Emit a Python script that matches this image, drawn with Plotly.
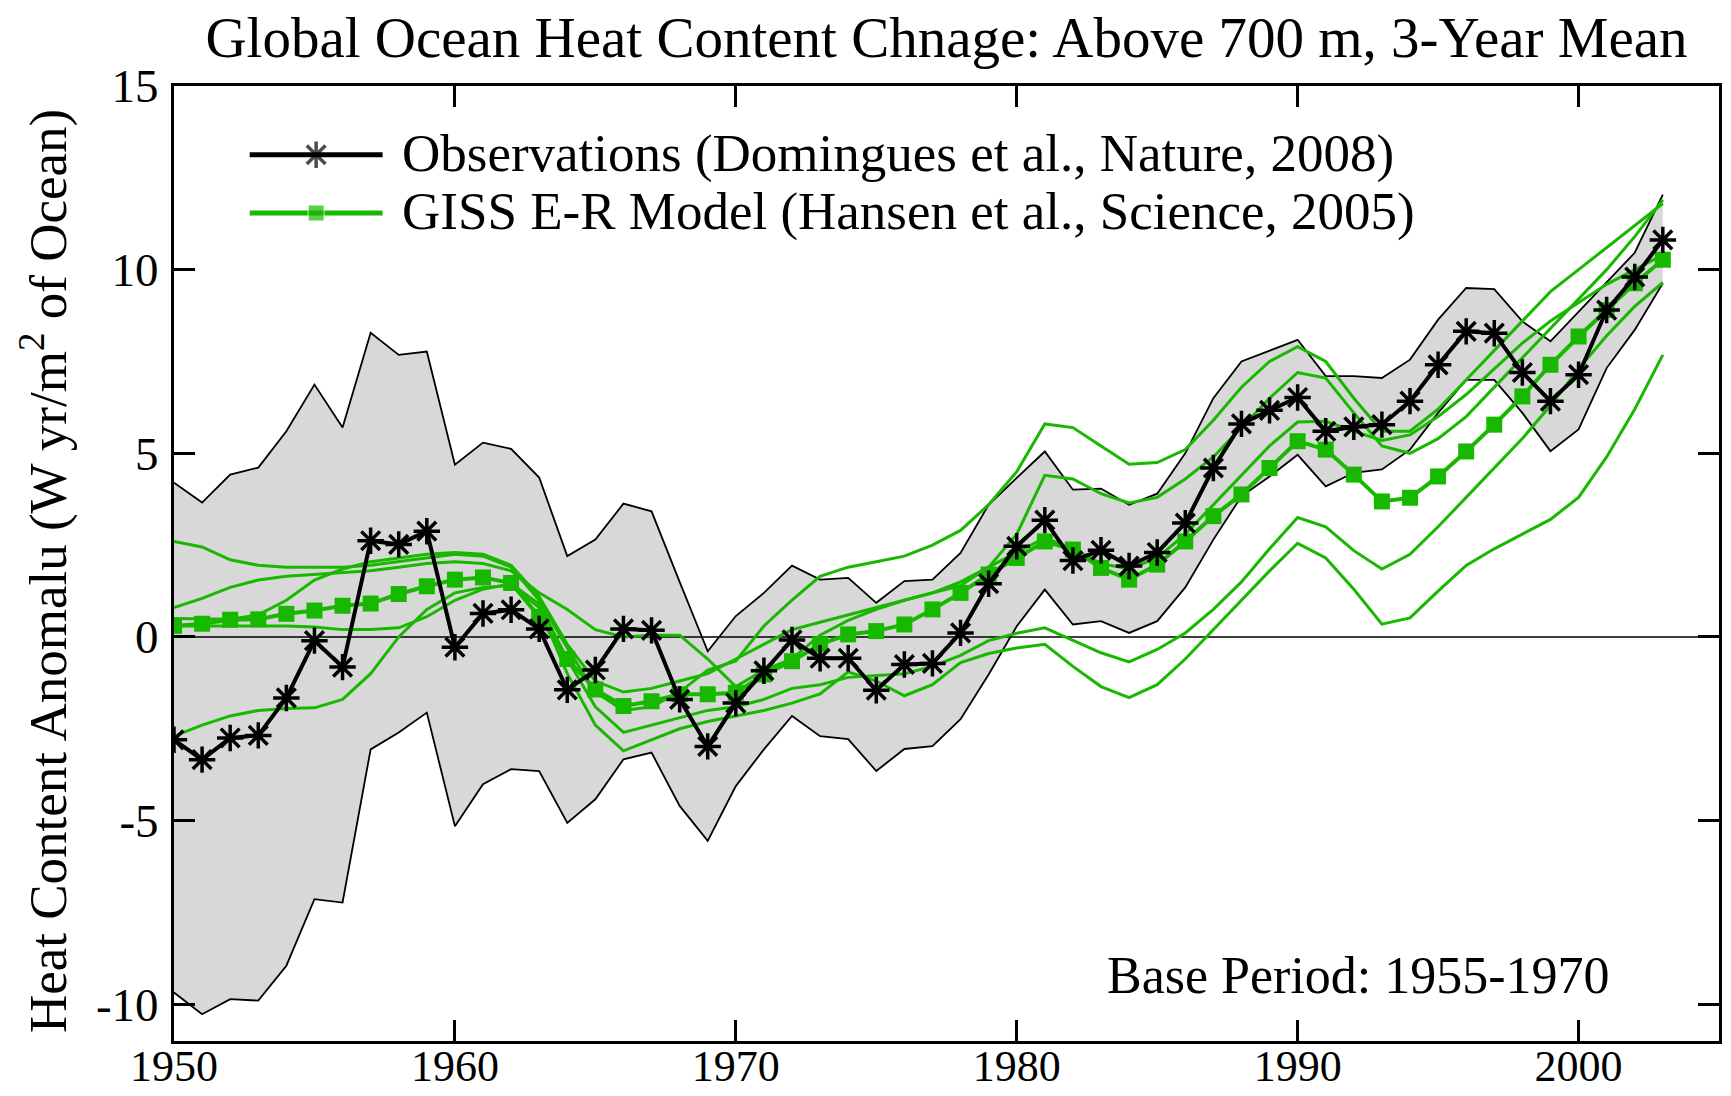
import plotly.graph_objects as go

# annual values, 3-year means
years = list(range(1950, 2004))

obs = [-2.8, -3.34, -2.75, -2.68, -1.66, -0.1, -0.82, 2.62, 2.52, 2.88,
       -0.28, 0.64, 0.74, 0.22, -1.44, -0.9, 0.22, 0.18, -1.7, -2.98,
       -1.8, -0.92, -0.08, -0.58, -0.58, -1.45, -0.75, -0.72, 0.11, 1.45,
       2.47, 3.18, 2.08, 2.36, 1.93, 2.3, 3.1, 4.6, 5.8, 6.17,
       6.52, 5.6, 5.72, 5.78, 6.42, 7.41, 8.32, 8.27, 7.2, 6.42,
       7.14, 8.9, 9.8, 10.81]

obs_upper = [4.2, 3.66, 4.42, 4.61, 5.6, 6.87, 5.7, 8.28, 7.68, 7.77,
             4.69, 5.29, 5.12, 4.34, 2.2, 2.65, 3.63, 3.42, 1.5, -0.39,
             0.57, 1.2, 1.94, 1.56, 1.61, 0.93, 1.52, 1.56, 2.29, 3.6,
             4.33, 5.05, 4.01, 4.04, 3.6, 3.9, 5.0, 6.5, 7.5, 7.8,
             8.09, 7.1, 7.1, 7.05, 7.55, 8.64, 9.5, 9.47, 8.59, 8.05,
             8.86, 9.68, 10.46, 12.04]

obs_lower = [-9.68, -10.27, -9.86, -9.9, -8.95, -7.14, -7.23, -3.06, -2.6, -2.06,
             -5.15, -4.01, -3.6, -3.65, -5.06, -4.42, -3.33, -3.15, -4.6, -5.55,
             -4.06, -3.06, -2.15, -2.7, -2.78, -3.65, -3.05, -2.97, -2.24, -1.02,
             0.29, 1.29, 0.34, 0.43, 0.11, 0.43, 1.35, 2.65, 3.83, 4.37,
             4.96, 4.1, 4.47, 4.56, 5.1, 6.1, 7.0, 7.0, 6.1, 5.06,
             5.65, 7.32, 8.36, 9.63]

model_mean = [0.3, 0.36, 0.47, 0.48, 0.63, 0.72, 0.85, 0.91, 1.17, 1.38,
              1.56, 1.62, 1.47, 0.55, -0.6, -1.43, -1.88, -1.75, -1.56, -1.56,
              -1.52, -1.02, -0.66, -0.2, 0.07, 0.16, 0.34, 0.75, 1.2, 1.7,
              2.15, 2.6, 2.38, 1.88, 1.56, 1.97, 2.6, 3.29, 3.88, 4.6,
              5.33, 5.1, 4.42, 3.69, 3.79, 4.37, 5.05, 5.78, 6.55, 7.41,
              8.18, 8.9, 9.63, 10.27]

run1 = [2.6, 2.45, 2.1, 1.95, 1.9, 1.9, 1.9, 1.95, 2.05, 2.15,
        2.25, 2.2, 1.9, 1.0, -0.3, -1.5, -2.0, -1.9, -1.5, -0.9,
        -0.65, 0.3, 1.0, 1.65, 1.9, 2.05, 2.2, 2.5, 2.9, 3.6,
        4.5, 5.8, 5.7, 5.2, 4.7, 4.75, 5.1, 5.9, 6.8, 7.5,
        7.9, 7.5, 6.5, 5.6, 5.6, 6.2, 7.0, 7.8, 8.6, 9.4,
        10.0, 10.6, 11.2, 11.8]
run2 = [0.8, 1.05, 1.35, 1.55, 1.65, 1.7, 1.75, 1.8, 1.9, 2.0,
        2.05, 2.0, 1.8, 1.2, 0.75, 0.2, 0.0, 0.05, 0.05, -0.6,
        -1.35, -0.9, -0.6, 0.05, 0.45, 0.75, 1.0, 1.2, 1.5, 1.9,
        2.8, 4.4, 4.3, 3.9, 3.65, 3.8, 4.3, 4.9, 5.7, 6.5,
        7.2, 7.05, 6.1, 5.2, 5.0, 5.4, 6.0, 6.8, 7.6, 8.4,
        9.2, 10.0, 10.9, 11.9]
run3 = [0.5, 0.48, 0.48, 0.6, 1.0, 1.55, 1.85, 2.05, 2.15, 2.25,
        2.3, 2.25, 1.95, 1.1, -0.2, -1.2, -1.5, -1.4, -1.2, -1.0,
        -0.6, -0.2, 0.2, 0.4, 0.6, 0.8, 1.0, 1.2, 1.4, 1.9,
        2.3, 2.7, 2.4, 2.0, 1.85, 2.15, 2.8, 3.6, 4.4, 5.2,
        5.85, 5.87, 5.6, 5.35, 5.5, 6.0, 6.6, 7.3, 8.0, 8.6,
        9.1, 9.6, 10.0, 10.4]
run4 = [0.3, 0.3, 0.3, 0.3, 0.3, 0.27, 0.2, 0.2, 0.25, 0.55,
        1.0, 1.3, 1.45, 0.9, -0.6, -1.9, -2.6, -2.4, -2.2, -2.0,
        -1.9, -1.7, -1.4, -1.3, -1.1, -1.05, -1.0, -0.8, -0.5, -0.1,
        0.1, 0.25, -0.1, -0.43, -0.68, -0.34, 0.11, 0.75, 1.5, 2.4,
        3.25, 3.0, 2.35, 1.85, 2.25, 3.0, 3.8, 4.6, 5.4, 6.3,
        7.3, 8.2, 9.0, 9.65]
run5 = [-2.7, -2.4, -2.15, -2.0, -1.95, -1.93, -1.7, -1.0, 0.0, 0.75,
        1.2, 1.35, 1.4, 0.8, -1.0, -2.4, -3.1, -2.8, -2.5, -2.3,
        -2.15, -2.0, -1.8, -1.55, -0.95, -1.2, -1.6, -1.3, -0.7, -0.45,
        -0.3, -0.2, -0.8, -1.35, -1.65, -1.3, -0.6, 0.2, 1.0, 1.8,
        2.55, 2.15, 1.3, 0.35, 0.52, 1.25, 1.95, 2.4, 2.8, 3.2,
        3.8, 4.9, 6.2, 7.68]
runs = [run1, run2, run3, run4, run5]

x_ticks = [1950, 1960, 1970, 1980, 1990, 2000]
y_ticks = [-10, -5, 0, 5, 10, 15]
y_ticktext = ['-10', '-5', '0', '5', '10', '15']
x_range = [1950, 2005]
y_range = [-11, 15]

GREEN = '#19b800'
FONT = 'Liberation Serif'

fig = go.Figure()

# grey band of the observational uncertainty
fig.add_trace(go.Scatter(x=years, y=obs_lower, mode='lines',
                         line=dict(color='black', width=1.8), showlegend=False))
fig.add_trace(go.Scatter(x=years, y=obs_upper, mode='lines', fill='tonexty',
                         fillcolor='#d8d8d8', line=dict(color='black', width=1.8),
                         showlegend=False))
# zero line
fig.add_trace(go.Scatter(x=x_range, y=[0, 0], mode='lines',
                         line=dict(color='black', width=1.5), showlegend=False))
# model runs
for r in runs:
    fig.add_trace(go.Scatter(x=years, y=r, mode='lines',
                             line=dict(color=GREEN, width=3), showlegend=False))
# model mean
fig.add_trace(go.Scatter(x=years, y=model_mean, mode='lines+markers',
                         line=dict(color=GREEN, width=4),
                         marker=dict(symbol='square', size=16, color=GREEN),
                         showlegend=False))
# observations
fig.add_trace(go.Scatter(x=years, y=obs, mode='lines+markers',
                         line=dict(color='black', width=4),
                         marker=dict(symbol='asterisk-open', size=22,
                                     line=dict(color='black', width=3.5)),
                         showlegend=False))

# hand made legend on a hidden 0..1 overlay
leg_x = [0.049, 0.092, 0.135]
fig.add_trace(go.Scatter(x=leg_x, y=[0.928] * 3, xaxis='x2', yaxis='y2',
                         mode='lines+markers', line=dict(color='black', width=5),
                         marker=dict(symbol='asterisk-open', size=[0, 22, 0],
                                     line=dict(color='black', width=3.5)),
                         showlegend=False, cliponaxis=False))
fig.add_trace(go.Scatter(x=leg_x, y=[0.867] * 3, xaxis='x2', yaxis='y2',
                         mode='lines+markers', line=dict(color=GREEN, width=5),
                         marker=dict(symbol='square', size=[0, 16, 0], color=GREEN),
                         showlegend=False, cliponaxis=False))

fig.add_annotation(x=0.1463, y=0.929, xref='paper', yref='paper', showarrow=False,
                   xanchor='left', yanchor='middle',
                   text='Observations (Domingues et al., Nature, 2008)',
                   font=dict(family=FONT, size=53, color='black'))
fig.add_annotation(x=0.1463, y=0.869, xref='paper', yref='paper', showarrow=False,
                   xanchor='left', yanchor='middle',
                   text='GISS E-R Model (Hansen et al., Science, 2005)',
                   font=dict(family=FONT, size=53, color='black'))
fig.add_annotation(x=0.9307, y=0.069, xref='paper', yref='paper', showarrow=False,
                   xanchor='right', yanchor='middle',
                   text='Base Period: 1955-1970',
                   font=dict(family=FONT, size=52, color='black'))
fig.add_annotation(x=-0.0842, y=0.492, xref='paper', yref='paper', showarrow=False,
                   xanchor='center', yanchor='middle', textangle=-90,
                   text='Heat Content Anomalu (W yr/m<sup>2</sup> of Ocean)',
                   font=dict(family=FONT, size=53, color='black'))

axis_common = dict(showgrid=False, zeroline=False, showline=True, linecolor='black',
                   linewidth=3, mirror='ticks', ticks='inside', ticklen=21,
                   tickwidth=2.5, tickcolor='black', automargin=False)

fig.update_layout(
    width=1715, height=1080,
    margin=dict(l=166, r=4, t=78, b=47, autoexpand=False),
    paper_bgcolor='white', plot_bgcolor='white',
    showlegend=False,
    title=dict(text='Global Ocean Heat Content Chnage: Above 700 m, 3-Year Mean',
               x=0.5, xref='paper', xanchor='center',
               y=1 - 29 / 1080, yref='container', yanchor='middle',
               font=dict(family=FONT, size=57, color='black')),
    xaxis=dict(range=x_range, tickvals=x_ticks, ticklabelstandoff=-16,
               tickfont=dict(family=FONT, size=44, color='black'), **axis_common),
    yaxis=dict(range=y_range, tickvals=y_ticks, ticktext=y_ticktext,
               ticklabelstandoff=3,
               tickfont=dict(family=FONT, size=47, color='black'), **axis_common),
    xaxis2=dict(range=[0, 1], overlaying='x', visible=False),
    yaxis2=dict(range=[0, 1], overlaying='y', visible=False),
)

fig.write_html("out.html")
